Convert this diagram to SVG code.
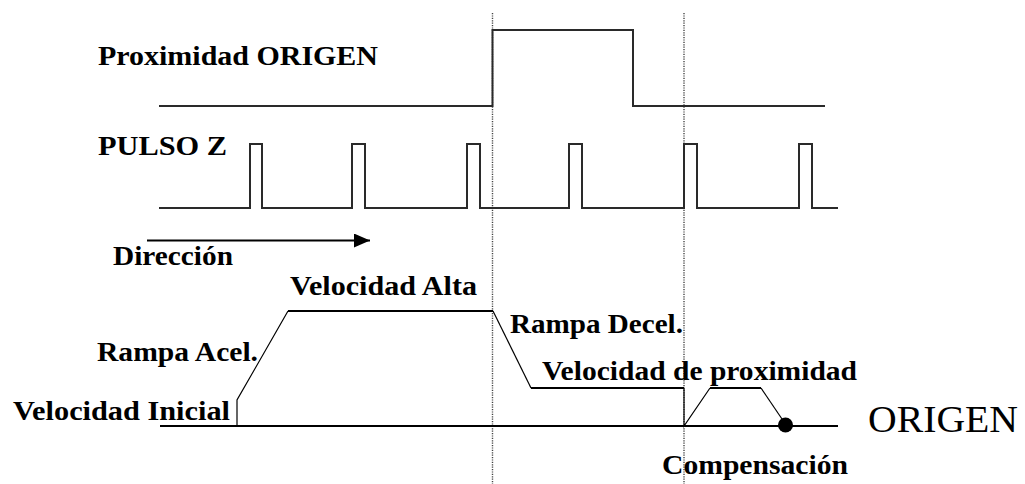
<svg xmlns="http://www.w3.org/2000/svg" width="1025" height="484" viewBox="0 0 1025 484">
  <style>
    .lbl { font-family: "Liberation Serif", "Times New Roman", serif; font-weight: bold; font-size: 27px; fill: #000; }
    .big { font-family: "Liberation Serif", "Times New Roman", serif; font-size: 37px; fill: #000; }
    .sig { fill: none; stroke: #2a2a2a; stroke-width: 2; stroke-linejoin: miter; }
    .base { fill: none; stroke: #000; stroke-width: 2; }
    .thin { fill: none; stroke: #000; stroke-width: 1.2; }
    .dot { fill: none; stroke: #444; stroke-width: 1.4; stroke-dasharray: 1.2 1.2; }
  </style>
  <defs>
    <marker id="arrow" markerWidth="16" markerHeight="14" refX="16" refY="7" orient="auto" markerUnits="userSpaceOnUse">
      <path d="M0,0 L16,7 L0,14 Z" fill="#000"/>
    </marker>
  </defs>
  <rect width="1025" height="484" fill="#fff"/>

  <g id="guides">
    <line class="dot" x1="492.5" y1="13" x2="492.5" y2="484"/>
    <line class="dot" x1="684" y1="13" x2="684" y2="484"/>
  </g>

  <g id="proximidad-origen">
    <text class="lbl" x="98" y="65" textLength="280" lengthAdjust="spacingAndGlyphs">Proximidad ORIGEN</text>
    <path class="sig" d="M159,106 H492.5 V30 H633 V106 H825"/>
  </g>

  <g id="pulso-z">
    <text class="lbl" x="98" y="155" textLength="129" lengthAdjust="spacingAndGlyphs">PULSO Z</text>
    <path class="sig" d="M159,208 H250 V144 H262 V208 H352 V144 H365 V208 H467 V144 H480 V208 H569 V144 H582 V208 H684 V144 H697 V208 H799 V144 H812 V208 H838"/>
  </g>

  <g id="direccion">
    <text class="lbl" x="113" y="265" textLength="120" lengthAdjust="spacingAndGlyphs">Dirección</text>
  </g>

  <g id="connectors">
    <line x1="147" y1="240.5" x2="370" y2="240.5" stroke="#000" stroke-width="2" marker-end="url(#arrow)"/>
  </g>

  <g id="perfil-velocidad">
    <line class="base" x1="160" y1="426" x2="838" y2="426"/>
    <path class="thin" d="M237,426 V400 L288,311"/>
    <path class="base" d="M288,311 H493"/>
    <path class="thin" d="M493,311 L531,388"/>
    <path class="base" d="M531,388 H684"/>
    <path class="thin" d="M684,388 V426 L710,388"/>
    <path class="base" d="M710,388 H761"/>
    <path class="thin" d="M761,388 L782,419"/>
    <circle cx="785.5" cy="425" r="7.5" fill="#000"/>
  </g>

  <g id="labels">
    <text class="lbl" x="290" y="295" textLength="187" lengthAdjust="spacingAndGlyphs">Velocidad Alta</text>
    <text class="lbl" x="97" y="361" textLength="161" lengthAdjust="spacingAndGlyphs">Rampa Acel.</text>
    <text class="lbl" x="13" y="420" textLength="217" lengthAdjust="spacingAndGlyphs">Velocidad Inicial</text>
    <text class="lbl" x="510" y="333" textLength="173" lengthAdjust="spacingAndGlyphs">Rampa Decel.</text>
    <text class="lbl" x="542" y="380" textLength="315" lengthAdjust="spacingAndGlyphs">Velocidad de proximidad</text>
    <text class="lbl" x="662" y="474" textLength="186" lengthAdjust="spacingAndGlyphs">Compensación</text>
    <text class="big" x="868" y="432" textLength="150" lengthAdjust="spacingAndGlyphs">ORIGEN</text>
  </g>
</svg>
